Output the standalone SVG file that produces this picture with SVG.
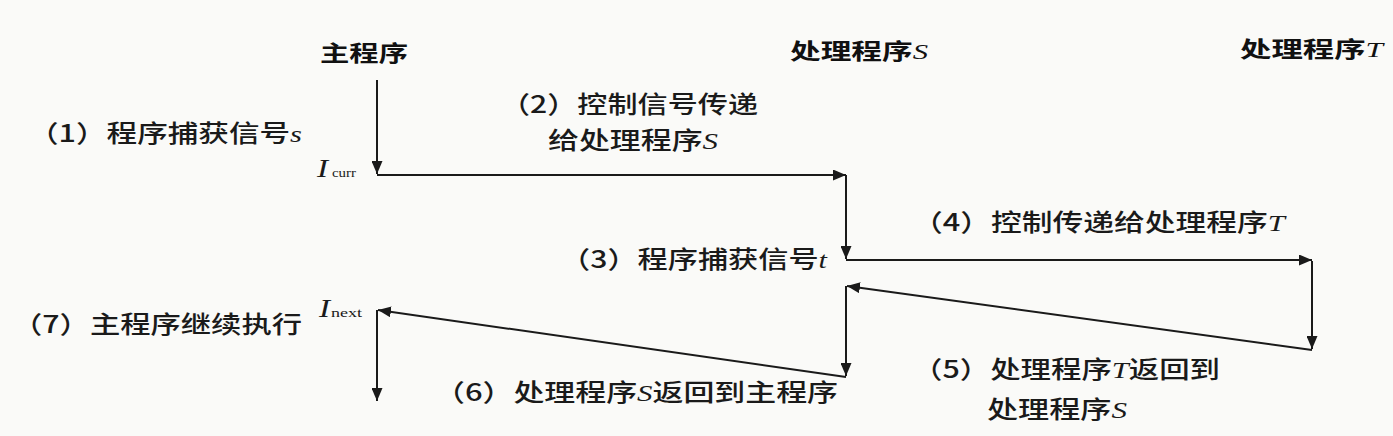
<svg xmlns="http://www.w3.org/2000/svg" width="1393" height="436" viewBox="0 0 1393 436">
<defs>
<style>
.t{font-family:"Noto Sans CJK SC","Noto Sans",sans-serif;font-size:24px;font-weight:500;fill:#1a1a1a}
.h{font-family:"Noto Sans CJK SC","Noto Sans",sans-serif;font-size:22px;font-weight:bold;fill:#111}
.i{font-family:"Liberation Serif",serif;font-style:italic;font-weight:normal}
.sub{font-family:"Liberation Serif",serif;font-size:13px;fill:#1a1a1a}
.big{font-family:"Liberation Serif",serif;font-style:italic;font-size:25px;fill:#1a1a1a}
.c{fill:none;stroke:#1a1a1a;stroke-width:2;marker-end:url(#ah)}
</style>
<marker id="ah" markerUnits="userSpaceOnUse" markerWidth="14" markerHeight="11" refX="13" refY="5.5" orient="auto">
<path d="M0,0 L13,5.5 L0,11 z" fill="#1a1a1a"/>
</marker>
</defs>
<rect width="1393" height="436" fill="#fafaf8"/>

<g id="header-main"><text class="h" x="320" y="61" textLength="88" lengthAdjust="spacingAndGlyphs">主程序</text></g>
<g id="header-s"><text class="h" x="790" y="59" textLength="138" lengthAdjust="spacingAndGlyphs">处理程序<tspan class="i">S</tspan></text></g>
<g id="header-t"><text class="h" x="1240" y="57" textLength="143" lengthAdjust="spacingAndGlyphs">处理程序<tspan class="i">T</tspan></text></g>

<g id="icurr"><text class="big" x="317" y="177" textLength="11" lengthAdjust="spacingAndGlyphs">I</text><text class="sub" x="332" y="177" textLength="24" lengthAdjust="spacingAndGlyphs">curr</text></g>
<g id="inext"><text class="big" x="319" y="317" textLength="11" lengthAdjust="spacingAndGlyphs">I</text><text class="sub" x="331" y="317" textLength="31" lengthAdjust="spacingAndGlyphs">next</text></g>

<g id="label1"><text class="t" x="28" y="142" textLength="274" lengthAdjust="spacingAndGlyphs">（1）程序捕获信号<tspan class="i">s</tspan></text></g>
<g id="label2"><text class="t" x="500" y="113" textLength="258" lengthAdjust="spacingAndGlyphs">（2）控制信号传递</text><text class="t" x="548" y="149" textLength="170" lengthAdjust="spacingAndGlyphs">给处理程序<tspan class="i">S</tspan></text></g>
<g id="label3"><text class="t" x="560" y="268" textLength="267" lengthAdjust="spacingAndGlyphs">（3）程序捕获信号<tspan class="i">t</tspan></text></g>
<g id="label4"><text class="t" x="912" y="231" textLength="373" lengthAdjust="spacingAndGlyphs">（4）控制传递给处理程序<tspan class="i">T</tspan></text></g>
<g id="label5"><text class="t" x="912" y="378" textLength="308" lengthAdjust="spacingAndGlyphs">（5）处理程序<tspan class="i">T</tspan>返回到</text><text class="t" x="987" y="418" textLength="140" lengthAdjust="spacingAndGlyphs">处理程序<tspan class="i">S</tspan></text></g>
<g id="label6"><text class="t" x="434" y="401" textLength="404" lengthAdjust="spacingAndGlyphs">（6）处理程序<tspan class="i">S</tspan>返回到主程序</text></g>
<g id="label7"><text class="t" x="12" y="333" textLength="290" lengthAdjust="spacingAndGlyphs">（7）主程序继续执行</text></g>

<g id="connectors">
<path class="c" d="M377,80 V174"/>
<path class="c" d="M377,175 H846"/>
<path class="c" d="M846,175 V259"/>
<path class="c" d="M846,260 H1312"/>
<path class="c" d="M1312,261 V349"/>
<path class="c" d="M1312,350 L847,286"/>
<path class="c" d="M846,286 V376"/>
<path class="c" d="M846,377 L378,310"/>
<path class="c" d="M377,310 V401"/>
</g>
</svg>
